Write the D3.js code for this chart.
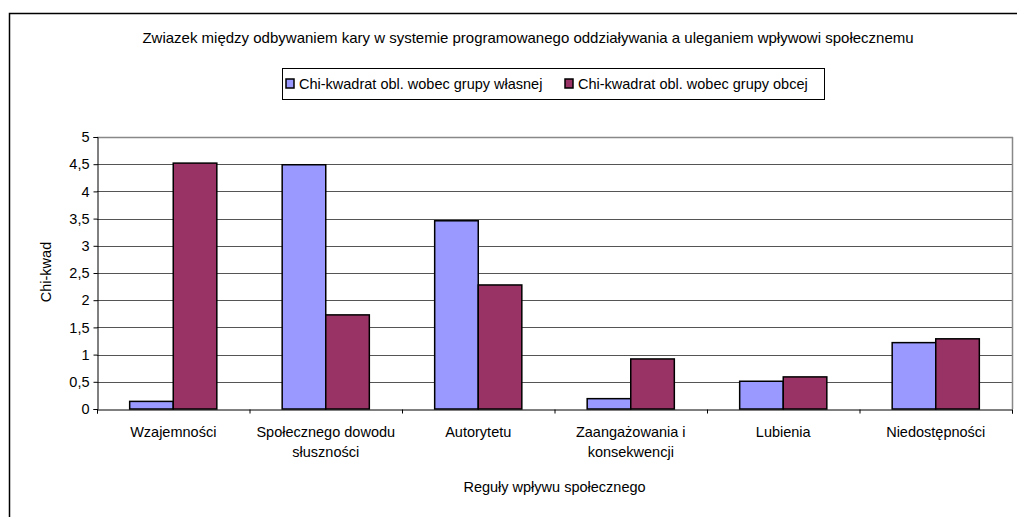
<!DOCTYPE html>
<html><head><meta charset="utf-8">
<script src="https://cdn.jsdelivr.net/npm/d3@7"></script>
<style>body{margin:0;background:#fff}svg{display:block}text{font-family:"Liberation Sans",Arial,sans-serif;fill:#000}</style>
</head><body><svg id="c" width="1017" height="517"></svg>
<script>
const title = "Zwiazek między odbywaniem kary w systemie programowanego oddziaływania a uleganiem wpływowi społecznemu";
const categories = [["Wzajemności"],["Społecznego dowodu","słuszności"],["Autorytetu"],["Zaangażowania i","konsekwencji"],["Lubienia"],["Niedostępności"]];
const seriesNames = ["Chi-kwadrat obl. wobec grupy własnej","Chi-kwadrat obl. wobec grupy obcej"];
const ownGroup = [0.14, 4.49, 3.46, 0.19, 0.51, 1.22];
const otherGroup = [4.52, 1.73, 2.28, 0.92, 0.59, 1.29];
const yTicks = [0,0.5,1,1.5,2,2.5,3,3.5,4,4.5,5];
const yTitle = "Chi-kwad";
const xTitle = "Reguły wpływu społecznego";
const colors = ["#9999FF","#993366"];

const FS = "14.5px";
const svg = d3.select("#c");
// outer frame
svg.append("rect").attr("x",9.5).attr("y",13.5).attr("width",1030).attr("height",530)
  .attr("fill","none").attr("stroke","#000").attr("stroke-width",1.5);

const L=97, R=1012, T=137, B=409;
const x0 = d3.scaleBand().domain(d3.range(categories.length)).range([L,R]).paddingInner(0).paddingOuter(0);
const x1 = d3.scaleBand().domain([0,1]).range([0,x0.bandwidth()]).paddingOuter(0.75).paddingInner(0);
const y = d3.scaleLinear().domain([0,5]).range([B,T]);

// gridlines
svg.append("g").selectAll("line").data(yTicks.filter(v=>v>0)).join("line")
  .attr("x1",L).attr("x2",R).attr("y1",d=>Math.round(y(d))+0.5).attr("y2",d=>Math.round(y(d))+0.5)
  .attr("stroke","#555").attr("stroke-width",1);
// plot border right/top
svg.append("line").attr("x1",R+0.5).attr("x2",R+0.5).attr("y1",T).attr("y2",B).attr("stroke","#888").attr("stroke-width",1.5);
svg.append("line").attr("x1",L).attr("x2",R+1).attr("y1",T+0.5).attr("y2",T+0.5).attr("stroke","#888").attr("stroke-width",1.5);

// bars
const data = [ownGroup, otherGroup];
const g = svg.append("g");
data.forEach((vals,si)=>{
  g.selectAll(null).data(vals).join("rect")
    .attr("x",(d,i)=>x0(i)+x1(si))
    .attr("y",d=>y(d))
    .attr("width",x1.bandwidth())
    .attr("height",d=>B-y(d))
    .attr("fill",colors[si]).attr("stroke","#000").attr("stroke-width",1.5);
});

// y axis
const ya = d3.axisLeft(y).tickValues(yTicks).tickSize(4).tickPadding(4)
  .tickFormat(d=>String(d).replace(".",","));
const yg = svg.append("g").attr("transform",`translate(${L+0.5},0)`).call(ya);
yg.select(".domain").attr("stroke","#000");
yg.selectAll(".tick line").attr("stroke","#000");
yg.selectAll("text").style("font-size",FS).style("font-family",null);

// x axis
const xb = d3.scaleLinear().domain([0,categories.length]).range([L,R]);
const xa = d3.axisBottom(xb).tickValues(d3.range(categories.length+1)).tickSize(4).tickFormat("");
const xg = svg.append("g").attr("transform",`translate(0,${B+0.5})`).call(xa);
xg.select(".domain").attr("stroke","#000");
xg.selectAll(".tick line").attr("stroke","#000");

categories.forEach((lines,i)=>{
  const cx = x0(i)+x0.bandwidth()/2;
  const t = svg.append("text").attr("x",cx).attr("y",437)
    .attr("text-anchor","middle").style("font-size",FS);
  lines.forEach((ln,j)=>t.append("tspan").attr("x",cx).attr("dy",j?20:0).text(ln));
});

svg.append("text").attr("x",(L+R)/2).attr("y",492).attr("text-anchor","middle").style("font-size",FS).text(xTitle);
svg.append("text").attr("transform",`translate(51,272) rotate(-90)`).attr("text-anchor","middle").style("font-size",FS).text(yTitle);
svg.append("text").attr("x",528).attr("y",43).attr("text-anchor","middle").style("font-size","15px").text(title);

// legend
const lg = svg.append("g");
lg.append("rect").attr("x",282.5).attr("y",68.5).attr("width",542).attr("height",31).attr("fill","#fff").attr("stroke","#000").attr("stroke-width",1);
const lx=[286, 565];
seriesNames.forEach((n,i)=>{
  lg.append("rect").attr("x",lx[i]).attr("y",79).attr("width",8).attr("height",9).attr("fill",colors[i]).attr("stroke","#000").attr("stroke-width",1.5);
  lg.append("text").attr("x",lx[i]+13).attr("y",89).style("font-size",FS).text(n);
});
</script></body></html>
